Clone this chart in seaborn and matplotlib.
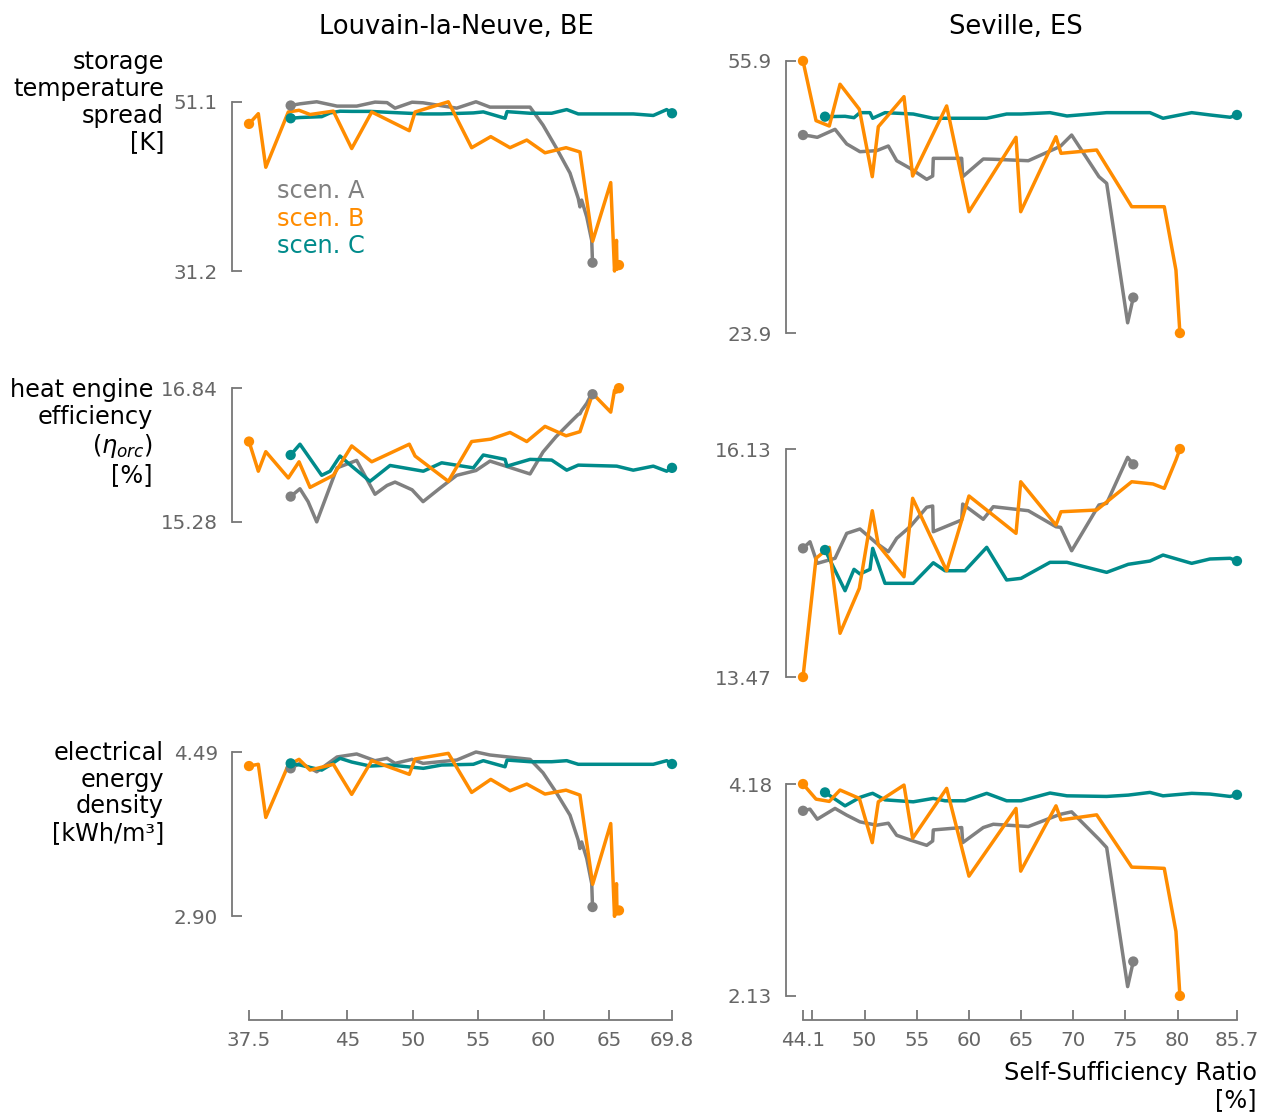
import matplotlib
matplotlib.use("Agg")
import matplotlib.pyplot as plt
from matplotlib.lines import Line2D
import numpy as np
import pandas as pd
import seaborn as sns

# ---------------- data: Louvain-la-Neuve, BE ----------------
lln_ssr_a = [40.68, 41.39, 42.01, 42.67, 44.22, 45.72, 47.12, 48.04, 48.65, 49.95, 50.79, 52.08, 53.36,
             54.83, 55.90, 58.96, 59.95, 60.94, 62.01, 62.64, 62.77, 62.90, 63.29, 63.67, 63.73]
lln_spread_a = [50.66, 50.86, 50.98, 51.1, 50.59, 50.59, 51.06, 51.0, 50.35, 51.05, 50.98, 50.66, 50.35,
                51.1, 50.47, 50.47, 48.36, 45.74, 42.72, 39.74, 38.74, 39.54, 37.55, 34.77, 32.18]
lln_eff_a = [15.575, 15.666, 15.516, 15.28, 15.910, 15.997, 15.602, 15.705, 15.744, 15.654, 15.516, 15.673,
             15.823, 15.879, 15.989, 15.839, 16.095, 16.273, 16.438, 16.533, 16.541, 16.580, 16.663, 16.777, 16.769]
lln_dens_a = [4.332, 4.380, 4.345, 4.299, 4.442, 4.471, 4.406, 4.429, 4.380, 4.419, 4.380, 4.396, 4.412,
              4.49, 4.461, 4.419, 4.289, 4.102, 3.879, 3.637, 3.556, 3.620, 3.459, 3.216, 2.99]

lln_ssr_b = [37.5, 38.21, 38.78, 40.50, 41.32, 42.16, 43.94, 45.34, 46.87, 49.74, 50.18, 52.72, 54.50,
             55.96, 57.43, 58.71, 60.10, 61.71, 62.77, 63.74, 65.12, 65.41, 65.56, 65.60, 65.75]
lln_spread_b = [48.5, 49.7, 43.4, 49.9, 50.1, 49.6, 50.0, 45.6, 49.9, 47.7, 49.9, 51.1, 45.7,
                47.0, 45.7, 46.6, 45.1, 45.7, 45.2, 34.7, 41.6, 31.2, 34.8, 31.4, 31.9]
lln_eff_b = [16.217, 15.871, 16.099, 15.792, 15.981, 15.682, 15.823, 16.166, 15.981, 16.186, 16.048, 15.753,
             16.217, 16.245, 16.323, 16.217, 16.394, 16.284, 16.332, 16.777, 16.560, 16.816, 16.793, 16.834, 16.84]
lln_dens_b = [4.354, 4.371, 3.857, 4.364, 4.419, 4.315, 4.371, 4.080, 4.406, 4.274, 4.422, 4.477, 4.099,
              4.225, 4.115, 4.180, 4.083, 4.121, 4.073, 3.210, 3.798, 2.90, 3.216, 2.925, 2.957]

lln_ssr_c = [40.68, 41.39, 43.05, 43.69, 44.45, 45.34, 46.74, 48.27, 50.81, 52.21, 54.63, 55.39, 57.05,
             57.20, 58.96, 60.61, 61.76, 62.64, 65.58, 66.84, 68.37, 69.39, 69.8]
lln_spread_c = [49.16, 49.25, 49.35, 49.79, 49.99, 49.97, 49.97, 49.85, 49.67, 49.67, 49.79, 49.91, 49.16,
                49.94, 49.75, 49.75, 50.18, 49.67, 49.67, 49.67, 49.49, 50.18, 49.75]
lln_eff_c = [16.060, 16.186, 15.823, 15.871, 16.048, 15.930, 15.753, 15.938, 15.871, 15.969, 15.910, 16.060,
             16.009, 15.930, 16.009, 16.001, 15.883, 15.942, 15.930, 15.883, 15.930, 15.871, 15.910]
lln_dens_c = [4.380, 4.364, 4.315, 4.364, 4.429, 4.393, 4.354, 4.364, 4.332, 4.364, 4.371, 4.406, 4.347,
              4.412, 4.396, 4.396, 4.406, 4.371, 4.371, 4.371, 4.371, 4.406, 4.374]

# ---------------- data: Seville, ES ----------------
sev_ssr_a = [44.1, 44.77, 45.47, 47.17, 48.29, 49.56, 51.16, 52.28, 53.08, 54.36, 55.96, 56.53, 56.59,
             59.31, 59.41, 61.38, 62.34, 65.70, 68.35, 68.80, 69.85, 72.47, 73.21, 75.22, 75.76]
sev_spread_a = [47.19, 47.08, 46.92, 47.86, 46.14, 45.23, 45.35, 45.90, 44.17, 43.28, 41.98, 42.37, 44.45,
                44.45, 42.29, 44.37, 44.34, 44.17, 45.63, 45.90, 47.19, 42.29, 41.51, 25.11, 28.08]
sev_eff_a = [14.971, 15.048, 14.796, 14.855, 15.146, 15.197, 15.030, 14.932, 15.088, 15.223, 15.450, 15.465,
             15.165, 15.302, 15.488, 15.310, 15.457, 15.410, 15.223, 15.216, 14.943, 15.477, 15.496, 16.033, 15.951]
sev_dens_a = [3.921, 3.937, 3.840, 3.944, 3.879, 3.814, 3.782, 3.801, 3.684, 3.639, 3.587, 3.629, 3.736,
              3.759, 3.613, 3.759, 3.791, 3.769, 3.872, 3.888, 3.911, 3.646, 3.565, 2.220, 2.463]

sev_ssr_b = [44.1, 45.35, 46.62, 47.65, 49.50, 50.74, 51.32, 53.78, 54.61, 57.87, 60.01, 64.52, 64.97,
             68.35, 68.83, 72.25, 75.61, 77.65, 78.73, 79.85, 80.23]
sev_spread_b = [55.9, 48.88, 48.25, 53.16, 50.22, 42.29, 48.17, 51.70, 42.37, 50.61, 38.17, 46.92, 38.17,
                46.99, 45.04, 45.43, 38.76, 38.76, 38.76, 31.31, 23.9]
sev_eff_b = [13.47, 14.855, 14.983, 13.980, 14.505, 15.410, 15.010, 14.640, 15.555, 14.710, 15.582, 15.146,
             15.748, 15.243, 15.398, 15.418, 15.748, 15.722, 15.671, 16.002, 16.13]
sev_dens_b = [4.18, 4.034, 4.012, 4.122, 4.041, 3.613, 4.008, 4.17, 3.655, 4.138, 3.289, 3.944, 3.337,
              3.969, 3.833, 3.882, 3.376, 3.369, 3.364, 2.754, 2.13]

sev_ssr_c = [46.21, 48.13, 48.99, 49.56, 50.52, 50.78, 51.96, 54.67, 56.59, 57.71, 59.63, 61.71, 63.62,
             65.00, 67.78, 69.40, 73.21, 75.28, 77.36, 78.61, 81.36, 83.11, 85.04, 85.7]
sev_spread_c = [49.35, 49.39, 49.23, 49.82, 49.82, 49.16, 49.82, 49.66, 49.16, 49.16, 49.16, 49.16, 49.66,
                49.66, 49.82, 49.43, 49.82, 49.82, 49.82, 49.16, 49.82, 49.55, 49.28, 49.55]
sev_eff_c = [14.952, 14.477, 14.726, 14.672, 14.726, 14.971, 14.563, 14.563, 14.803, 14.710, 14.710, 14.983,
             14.602, 14.621, 14.808, 14.808, 14.691, 14.785, 14.823, 14.893, 14.796, 14.847, 14.855, 14.823]
sev_dens_c = [4.099, 3.969, 4.018, 4.051, 4.083, 4.090, 4.027, 4.008, 4.041, 4.018, 4.018, 4.090, 4.018,
              4.018, 4.093, 4.066, 4.060, 4.073, 4.099, 4.066, 4.090, 4.083, 4.060, 4.076]

locations = ["Louvain-la-Neuve, BE", "Seville, ES"]
scenarios = ["scen. A", "scen. B", "scen. C"]
colors = {"scen. A": "#808080", "scen. B": "#ff8c00", "scen. C": "#008b8b"}
draw_order = ["scen. A", "scen. C", "scen. B"]

metrics = ["spread", "eff", "dens"]
row_labels = ["storage\ntemperature\nspread\n[K]",
              "heat engine\nefficiency\n($\\eta_{orc}$)\n[%]",
              "electrical\nenergy\ndensity\n[kWh/m³]"]
tick_fmt = ["{:.1f}", "{:.2f}", "{:.2f}"]

series = [
    (locations[0], "scen. A", lln_ssr_a, lln_spread_a, lln_eff_a, lln_dens_a),
    (locations[0], "scen. B", lln_ssr_b, lln_spread_b, lln_eff_b, lln_dens_b),
    (locations[0], "scen. C", lln_ssr_c, lln_spread_c, lln_eff_c, lln_dens_c),
    (locations[1], "scen. A", sev_ssr_a, sev_spread_a, sev_eff_a, sev_dens_a),
    (locations[1], "scen. B", sev_ssr_b, sev_spread_b, sev_eff_b, sev_dens_b),
    (locations[1], "scen. C", sev_ssr_c, sev_spread_c, sev_eff_c, sev_dens_c),
]
frames = []
for loc, scen, ssr, spread, eff, dens in series:
    frames.append(pd.DataFrame({"location": loc, "scenario": scen, "ssr": ssr,
                                "spread": spread, "eff": eff, "dens": dens}))
data = pd.concat(frames, ignore_index=True)

# ---------------- layout ----------------
sns.set_theme(style="ticks")
plt.rcParams["font.family"] = ["DejaVu Sans"]

W, H = 1270, 1112
fig = plt.figure(figsize=(W / 100, H / 100), dpi=100)

col_px = [(232, 680), (786, 1245)]
row_px = [(55, 345), (383, 687.3), (745.8, 1020)]
col_xlim = [(36.2, 70.41), (42.47, 86.47)]
row_ylim = [(22.5, 56.6), (13.35, 16.9), (1.897, 4.55)]
col_xticks = [[37.5, 40, 45, 50, 55, 60, 65, 69.8], [44.1, 45, 50, 55, 60, 65, 70, 75, 80, 85.7]]
col_hidden = [[40], [45]]
label_right_px = [164, 153, 164]

spine_col = "#777777"
label_col = "#666666"
text_size = 17.3
tick_size = 14.3

axes = np.empty((3, 2), dtype=object)
for r in range(3):
    for c in range(2):
        x0, x1 = col_px[c]
        y0, y1 = row_px[r]
        ax = fig.add_axes([x0 / W, 1 - y1 / H, (x1 - x0) / W, (y1 - y0) / H])
        ax.set_facecolor("none")
        axes[r, c] = ax
        sub = data[data.location == locations[c]]
        m = metrics[r]
        for scen in draw_order:
            s = sub[sub.scenario == scen]
            sns.lineplot(data=s, x="ssr", y=m, color=colors[scen], lw=2.5, sort=False,
                         estimator=None, ax=ax, legend=False)
            ends = s.iloc[[0, -1]]
            sns.scatterplot(data=ends, x="ssr", y=m, color=colors[scen], s=55,
                            edgecolor="none", ax=ax, legend=False, zorder=3)
        ax.set_xlim(*col_xlim[c])
        ax.set_ylim(*row_ylim[r])
        ax.set_xlabel("")
        ax.set_ylabel("")
        for side in ["top", "right"]:
            ax.spines[side].set_visible(False)
        lo, hi = sub[m].min(), sub[m].max()
        ax.spines["left"].set_bounds(lo, hi)
        ax.spines["left"].set_color(spine_col)
        ax.spines["left"].set_linewidth(1.3)
        ax.set_yticks([lo, hi])
        ax.set_yticklabels([tick_fmt[r].format(lo), tick_fmt[r].format(hi)])
        ax.tick_params(axis="y", left=True, direction="in", length=7, width=1.3, color=spine_col,
                       labelcolor=label_col, labelsize=tick_size, pad=10)
        if r < 2:
            ax.spines["bottom"].set_visible(False)
            ax.tick_params(axis="x", bottom=False, labelbottom=False)
        else:
            xlo, xhi = sub["ssr"].min(), sub["ssr"].max()
            ax.spines["bottom"].set_bounds(xlo, xhi)
            ax.spines["bottom"].set_color(spine_col)
            ax.spines["bottom"].set_linewidth(1.3)
            ticks = col_xticks[c]
            ax.set_xticks(ticks)
            ax.set_xticklabels(["" if t in col_hidden[c] else ("{:g}".format(t)) for t in ticks])
            ax.tick_params(axis="x", bottom=True, direction="in", length=7, width=1.3, color=spine_col,
                           labelcolor=label_col, labelsize=tick_size, pad=8)
        if r == 0:
            ax.set_title(locations[c], fontsize=18.5, pad=15, color="black")

# row labels
for r in range(3):
    fig.text(label_right_px[r] / W, 1 - (row_px[r][0] - 5) / H, row_labels[r], ha="right", va="top",
             ma="right", fontsize=text_size, linespacing=1.15, color="black")

# x-axis label
fig.text(1257 / W, 1 - 1061 / H, "Self-Sufficiency Ratio\n[%]", ha="right", va="top",
         ma="right", fontsize=text_size, linespacing=1.15, color="black")

# legend as coloured text
handles = [Line2D([], [], color=colors[s], lw=0) for s in scenarios]
axes[0, 0].legend(handles, scenarios, labelcolor=[colors[s] for s in scenarios],
                  handlelength=0, handletextpad=0, frameon=False, fontsize=text_size,
                  loc="upper left", bbox_to_anchor=(277 / W, 1 - 179 / H),
                  bbox_transform=fig.transFigure, borderaxespad=0, borderpad=0,
                  labelspacing=0.15)

fig.savefig("out.png", dpi=100)
